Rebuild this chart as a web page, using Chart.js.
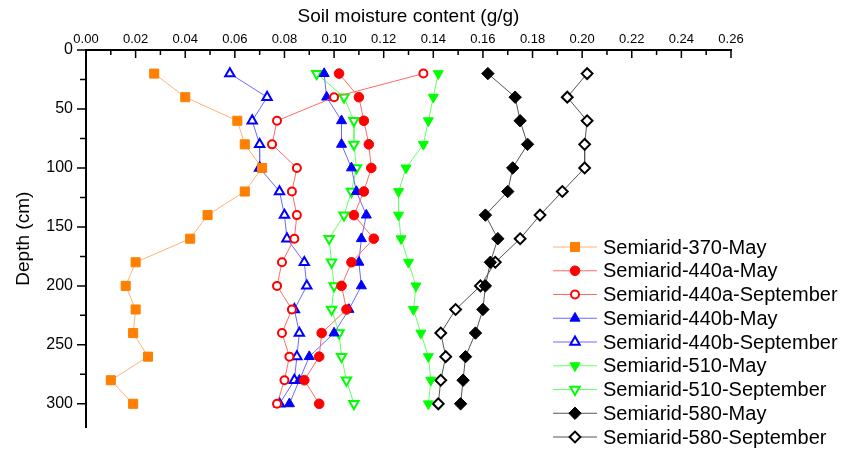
<!DOCTYPE html>
<html>
<head>
<meta charset="utf-8">
<script src="https://cdn.jsdelivr.net/npm/chart.js@4.4.1/dist/chart.umd.min.js"></script>
<style>
  html, body { margin: 0; padding: 0; background: #fff; }
  #wrap { width: 862px; height: 450px; }
</style>
</head>
<body>
<div id="wrap"><canvas id="myCanvas" width="862" height="450"></canvas></div>
<script>
'use strict';

// depth of each sample (cm)
const depths = [20, 40, 60, 80, 100, 120, 140, 160, 180, 200, 220, 240, 260, 280, 300];

// soil moisture (g/g) per site and month
const s370May  = [0.0275, 0.040, 0.061, 0.064, 0.071, 0.064, 0.049, 0.042, 0.020, 0.016, 0.020, 0.019, 0.025, 0.010, 0.019];
const s440aMay = [0.102, 0.110, 0.112, 0.114, 0.115, 0.112, 0.108, 0.116, 0.107, 0.103, 0.105, 0.095, 0.094, 0.088, 0.094];
const s440aSep = [0.136, 0.100, 0.077, 0.075, 0.085, 0.083, 0.085, 0.084, 0.079, 0.077, 0.083, 0.079, 0.082, 0.080, 0.077];
const s440bMay = [0.096, 0.097, 0.103, 0.103, 0.107, 0.109, 0.113, 0.111, 0.110, 0.111, 0.106, 0.100, 0.090, 0.086, 0.082];
const s440bSep = [0.058, 0.073, 0.067, 0.070, 0.070, 0.078, 0.080, 0.081, 0.088, 0.089, 0.084, 0.086, 0.085, 0.084, 0.078];
const s510May  = [0.142, 0.140, 0.138, 0.136, 0.129, 0.126, 0.126, 0.127, 0.130, 0.133, 0.132, 0.135, 0.138, 0.139, 0.138];
const s510Sep  = [0.093, 0.104, 0.108, 0.108, 0.109, 0.107, 0.104, 0.098, 0.099, 0.100, 0.099, 0.102, 0.103, 0.105, 0.108];
const s580May  = [0.162, 0.173, 0.175, 0.178, 0.172, 0.170, 0.161, 0.166, 0.163, 0.161, 0.160, 0.157, 0.153, 0.152, 0.151];
const s580Sep  = [0.202, 0.194, 0.202, 0.201, 0.201, 0.192, 0.183, 0.175, 0.165, 0.159, 0.149, 0.143, 0.145, 0.143, 0.142];

// axis ticks
const xTicks = [0.00, 0.02, 0.04, 0.06, 0.08, 0.10, 0.12, 0.14, 0.16, 0.18, 0.20, 0.22, 0.24, 0.26];
const yTicks = [0, 50, 100, 150, 200, 250, 300];

const FONT = '"Liberation Sans", Arial, sans-serif';

let seriesList = [];

function Series(label, values, color, lineColor, pointStyle, rotation, open, radius) {
  this.label = label;
  this.values = values;
  this.color = color;
  this.lineColor = lineColor;
  this.pointStyle = pointStyle;
  this.rotation = rotation;
  this.open = open;
  this.radius = radius;
  seriesList.push(this);
}

new Series('Semiarid-370-May', s370May, '#ff7f00', '#ffb27a', 'rect', 0, false, 6.4);
new Series('Semiarid-440a-May', s440aMay, '#ff0000', '#ff6a6a', 'circle', 0, false, 4.8);
new Series('Semiarid-440a-September', s440aSep, '#ff0000', '#ff6a6a', 'circle', 0, true, 4.0);
new Series('Semiarid-440b-May', s440bMay, '#0000ff', '#6a6aff', 'triangle', 0, false, 5.8);
new Series('Semiarid-440b-September', s440bSep, '#0000ff', '#6a6aff', 'triangle', 0, true, 5.4);
new Series('Semiarid-510-May', s510May, '#00ff00', '#66ff66', 'triangle', 180, false, 5.8);
new Series('Semiarid-510-September', s510Sep, '#00ff00', '#66ff66', 'triangle', 180, true, 5.4);
new Series('Semiarid-580-May', s580May, '#000000', '#555555', 'rectRot', 0, false, 6.2);
new Series('Semiarid-580-September', s580Sep, '#000000', '#555555', 'rectRot', 0, true, 5.4);

const datasets = seriesList.map(function (s) {
  return {
    label: s.label,
    data: depths.map(function (d, i) { return { x: s.values[i], y: d }; }),
    showLine: true,
    borderColor: s.lineColor,
    borderWidth: 1,
    pointStyle: s.pointStyle,
    pointRotation: s.rotation,
    pointRadius: s.radius,
    pointBackgroundColor: s.open ? '#ffffff' : s.color,
    pointBorderColor: s.color,
    pointBorderWidth: s.open ? 2 : 1
  };
});

// minor/major tick marks drawn by hand: x ticks point inward, y ticks outward
const tickPlugin = {
  id: 'tickMarks',
  afterDraw(chart) {
    const ctx = chart.ctx;
    const xs = chart.scales.x;
    const ys = chart.scales.y;
    const area = chart.chartArea;
    ctx.save();
    ctx.strokeStyle = '#000';
    ctx.lineWidth = 1.5;
    ctx.beginPath();
    for (let i = 0; i < xTicks.length; i++) {
      let px = xs.getPixelForValue(xTicks[i]);
      ctx.moveTo(px, area.top);
      ctx.lineTo(px, area.top + 8);
      if (i < xTicks.length - 1) {
        let mx = xs.getPixelForValue((xTicks[i] + xTicks[i + 1]) / 2);
        ctx.moveTo(mx, area.top);
        ctx.lineTo(mx, area.top + 5);
      }
    }
    for (let i = 0; i < yTicks.length; i++) {
      let py = ys.getPixelForValue(yTicks[i]);
      ctx.moveTo(area.left, py);
      ctx.lineTo(area.left - 9, py);
      let next = i < yTicks.length - 1 ? yTicks[i + 1] : yTicks[i] + 50;
      let mid = (yTicks[i] + next) / 2;
      if (mid < ys.max) {
        let my = ys.getPixelForValue(mid);
        ctx.moveTo(area.left, my);
        ctx.lineTo(area.left - 6, my);
      }
    }
    ctx.stroke();
    ctx.restore();
  }
};

// legend drawn over the plot, like the original figure
const legendPlugin = {
  id: 'sideLegend',
  afterDraw(chart) {
    const ctx = chart.ctx;
    const drawPoint = Chart.helpers && Chart.helpers.drawPoint;
    ctx.save();
    for (let i = 0; i < seriesList.length; i++) {
      let s = seriesList[i];
      let y = 247 + i * 23.75;
      ctx.strokeStyle = s.lineColor;
      ctx.lineWidth = 1;
      ctx.beginPath();
      ctx.moveTo(553, y);
      ctx.lineTo(597, y);
      ctx.stroke();
      ctx.fillStyle = s.open ? '#ffffff' : s.color;
      ctx.strokeStyle = s.color;
      ctx.lineWidth = s.open ? 2 : 1;
      if (drawPoint) {
        drawPoint(ctx, { pointStyle: s.pointStyle, rotation: s.rotation, radius: s.radius, borderWidth: ctx.lineWidth }, 575, y);
      } else {
        ctx.beginPath();
        ctx.arc(575, y, s.radius, 0, Math.PI * 2);
        ctx.fill();
        ctx.stroke();
      }
      ctx.fillStyle = '#000';
      ctx.font = '20px ' + FONT;
      ctx.textBaseline = 'middle';
      ctx.textAlign = 'left';
      ctx.fillText(s.label, 603, y + 1);
    }
    ctx.restore();
  }
};

const config = {
  type: 'scatter',
  data: { datasets: datasets },
  options: {
    responsive: false,
    animation: false,
    events: [],
    layout: { padding: { left: 0, top: 0, right: 131, bottom: 11 } },
    plugins: {
      legend: { display: false },
      tooltip: { enabled: false }
    },
    scales: {
      x: {
        type: 'linear',
        position: 'top',
        min: 0,
        max: 0.26,
        afterBuildTicks: function (scale) {
          scale.ticks = xTicks.map(function (v) { return { value: v }; });
        },
        afterFit: function (scale) { scale.height = 50; },
        grid: { display: true, drawOnChartArea: false, drawTicks: false },
        border: { display: true, color: '#000', width: 2 },
        ticks: {
          padding: 3,
          color: '#000',
          font: { family: FONT, size: 13 },
          maxRotation: 0,
          autoSkip: false,
          callback: function (v) { return Number(v).toFixed(2); }
        },
        title: {
          display: true,
          text: 'Soil moisture content (g/g)',
          color: '#000',
          font: { family: FONT, size: 19 },
          padding: { top: 5, bottom: 0 }
        }
      },
      y: {
        type: 'linear',
        reverse: true,
        min: 0,
        max: 320,
        afterBuildTicks: function (scale) {
          scale.ticks = yTicks.map(function (v) { return { value: v }; });
        },
        afterFit: function (scale) { scale.width = 86; },
        grid: { display: true, drawOnChartArea: false, drawTicks: false },
        border: { display: true, color: '#000', width: 2 },
        ticks: {
          padding: 13,
          color: '#000',
          font: { family: FONT, size: 16 },
          autoSkip: false
        },
        title: {
          display: true,
          text: 'Depth (cm)',
          color: '#000',
          font: { family: FONT, size: 19 },
          padding: { top: 12, bottom: 0 }
        }
      }
    }
  },
  plugins: [tickPlugin, legendPlugin]
};

const chart = document.getElementById('myCanvas');
const myChart = new Chart(chart, config);
</script>
</body>
</html>
